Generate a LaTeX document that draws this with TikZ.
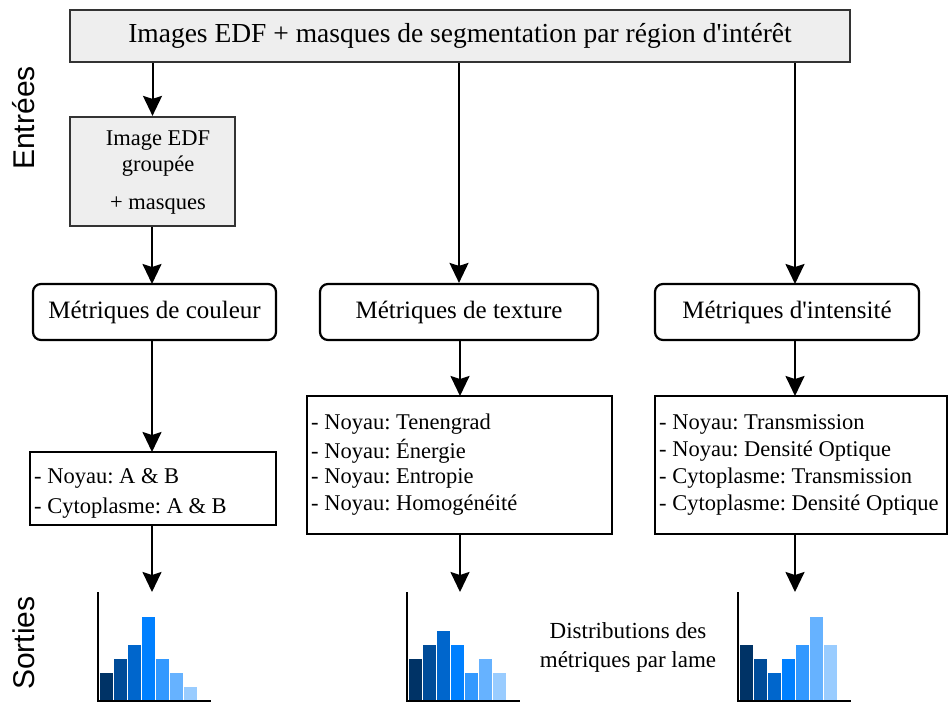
\documentclass[tikz,border=0pt]{standalone}
\usepackage{fontspec}
\setmainfont{Liberation Serif}
\newfontfamily\sidefont{Liberation Sans}
\usetikzlibrary{arrows.meta}
\definecolor{boxgray}{HTML}{EEEEEE}
\definecolor{edgegray}{HTML}{333333}
\definecolor{bA}{HTML}{003366}
\definecolor{bB}{HTML}{004C99}
\definecolor{bC}{HTML}{0066CC}
\definecolor{bD}{HTML}{0080FF}
\definecolor{bE}{HTML}{3399FF}
\definecolor{bF}{HTML}{66B2FF}
\definecolor{bG}{HTML}{99CCFF}
\frenchspacing
\tikzset{
  inbox/.style={draw=edgegray, line width=2.2pt, fill=boxgray, inner sep=0pt},
  metbox/.style={draw=black, line width=2.2pt, rounded corners=8pt, fill=white, inner sep=0pt, font=\fontsize{25}{28}\selectfont},
  listbox/.style={draw=black, line width=2.2pt, fill=white, inner sep=0pt},
  listtxt/.style={anchor=west, inner sep=0pt, font=\fontsize{22.5}{26}\selectfont},
  flow/.style={line width=2pt, -{Stealth[length=20pt,width=19pt,inset=3pt]}},
  sidelbl/.style={rotate=90, inner sep=0pt, font=\sidefont\fontsize{30}{34}\selectfont},
  bar/.style={draw=white, line width=0.6pt},
  axis/.style={line width=2.5pt, line cap=rect}
}
\begin{document}
\begin{tikzpicture}[x=1pt,y=-1pt]
\useasboundingbox (0,0) rectangle (950,704);

\node[inbox, minimum width=780pt, minimum height=52pt, font=\fontsize{27.5}{30}\selectfont] (top) at (460,36) {Images EDF + masques de segmentation par région d\textquotesingle intérêt};

\node[inbox, minimum width=165pt, minimum height=109pt] (img) at (152.5,171.5) {};
\node[inner sep=0pt, font=\fontsize{22.5}{26}\selectfont] (img1) at (158,141) {Image EDF};
\node[inner sep=0pt, font=\fontsize{22.5}{26}\selectfont] (img2) at (158,166) {groupée};
\node[inner sep=0pt, font=\fontsize{22.5}{26}\selectfont] (img3) at (158,206) {+ masques};

\node[metbox, minimum width=243pt, minimum height=56pt] (coul) at (154.5,312) {Métriques de couleur};
\node[metbox, minimum width=278pt, minimum height=56pt] (tex) at (459,312) {Métriques de texture};
\node[metbox, minimum width=264pt, minimum height=56pt] (int) at (787,312) {Métriques d\textquotesingle intensité};

\node[listbox, minimum width=246pt, minimum height=73pt] (lc) at (153,488.5) {};
\node[listbox, minimum width=305pt, minimum height=138pt] (lt) at (459.5,465) {};
\node[listbox, minimum width=292pt, minimum height=138pt] (li) at (801,465) {};

\node[listtxt] (lc1) at (34,478) {- Noyau: A \& B};
\node[listtxt] (lc2) at (34,508) {- Cytoplasme: A \& B};

\node[listtxt] (lt1) at (311,424) {- Noyau: Tenengrad};
\node[listtxt] (lt2) at (311,451) {- Noyau: Énergie};
\node[listtxt] (lt3) at (311,478) {- Noyau: Entropie};
\node[listtxt] (lt4) at (311,505) {- Noyau: Homogénéité};

\node[listtxt] (li1) at (659,424) {- Noyau: Transmission};
\node[listtxt] (li2) at (659,451) {- Noyau: Densité Optique};
\node[listtxt] (li3) at (659,478) {- Cytoplasme: Transmission};
\node[listtxt] (li4) at (659,505) {- Cytoplasme: Densité Optique};

\node[sidelbl] (entrees) at (24,118) {Entrées};
\node[sidelbl] (sorties) at (24,643) {Sorties};

\node[align=center, inner sep=0pt, font=\fontsize{23}{29}\selectfont] (dist) at (628,647) {Distributions des\\métriques par lame};

% arrows
\draw[flow] (top.south -| img.north) -- (img.north);
\draw[flow] (top.south -| tex.north) -- (tex.north);
\draw[flow] (top.south -| 795,0) -- (795,284);
\draw[flow] (img.south -| 152,0) -- (152,284);
\draw[flow] (coul.south -| 152,0) -- (152,452);
\draw[flow] (tex.south -| 460,0) -- (460,396);
\draw[flow] (int.south -| 795,0) -- (795,396);
\coordinate (h1) at (152,592);
\coordinate (h2) at (460,592);
\coordinate (h3) at (795,592);
\draw[flow] (lc.south -| h1) -- (h1);
\draw[flow] (lt.south -| h2) -- (h2);
\draw[flow] (li.south -| h3) -- (h3);

% histograms
\foreach \x/\hs in {99/{2,3,4,6,3,2,1}, 408/{3,4,5,4,2,3,2}, 739/{4,3,2,3,4,6,4}} {
  \foreach \h [count=\i] in \hs {
    \pgfmathsetmacro\xl{\x+(\i-1)*14}
    \ifcase\i\or\def\bc{bA}\or\def\bc{bB}\or\def\bc{bC}\or\def\bc{bD}\or\def\bc{bE}\or\def\bc{bF}\or\def\bc{bG}\fi
    \fill[\bc] (\xl,700) rectangle ++(14,-\h*14);
    \draw[bar] (\xl,700) rectangle ++(14,-\h*14);
  }
  \draw[axis] (\x-1,593) -- (\x-1,701) -- (\x+111,701);
}
\end{tikzpicture}
\end{document}
